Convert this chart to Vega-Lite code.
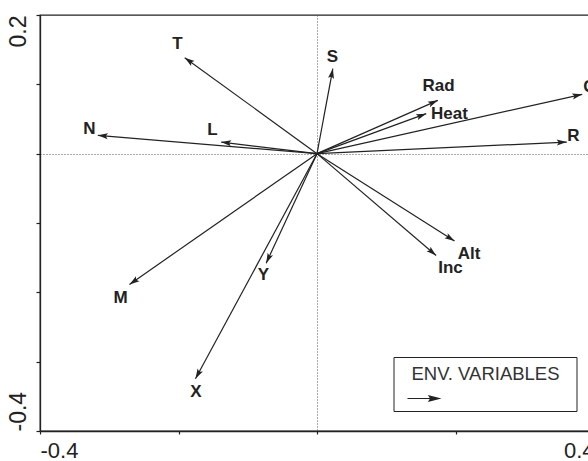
{
  "$schema": "https://vega.github.io/schema/vega-lite/v6.json",
  "width": 554,
  "height": 416,
  "autosize": "none",
  "padding": {"left": 40, "top": 15, "right": 0, "bottom": 30},
  "background": "white",
  "config": {
    "view": {"stroke": "#222", "strokeWidth": 1.3},
    "font": "Liberation Sans"
  },
  "datasets": {
    "arrows": [
      {"name": "T", "x": -0.191, "y": 0.1385, "lx": -0.2014, "ly": 0.1577},
      {"name": "N", "x": -0.3165, "y": 0.0264, "lx": -0.3285, "ly": 0.0351},
      {"name": "L", "x": -0.1384, "y": 0.0167, "lx": -0.1509, "ly": 0.0336},
      {"name": "S", "x": 0.0229, "y": 0.1227, "lx": 0.0224, "ly": 0.139},
      {"name": "Rad", "x": 0.1745, "y": 0.0769, "lx": 0.1755, "ly": 0.0971},
      {"name": "Heat", "x": 0.1577, "y": 0.0577, "lx": 0.1913, "ly": 0.0567},
      {"name": "C", "x": 0.383, "y": 0.0856, "lx": 0.3935, "ly": 0.0964},
      {"name": "R", "x": 0.3607, "y": 0.0167, "lx": 0.3704, "ly": 0.0248},
      {"name": "Alt", "x": 0.1986, "y": -0.1261, "lx": 0.2195, "ly": -0.1446},
      {"name": "Inc", "x": 0.172, "y": -0.1468, "lx": 0.1928, "ly": -0.1648},
      {"name": "M", "x": -0.2708, "y": -0.1886, "lx": -0.2838, "ly": -0.2088},
      {"name": "Y", "x": -0.0734, "y": -0.1579, "lx": -0.0773, "ly": -0.1756},
      {"name": "X", "x": -0.1755, "y": -0.3247, "lx": -0.1747, "ly": -0.3437}
    ]
  },
  "layer": [
    {
      "data": {"name": "arrows"},
      "mark": {"type": "rule", "stroke": "#222", "strokeWidth": 1.2},
      "encoding": {
        "x": {
          "field": "x", "type": "quantitative",
          "scale": {"domain": [-0.4, 0.4], "nice": false, "zero": false},
          "axis": {
            "title": null,
            "values": [-0.4, -0.2, 0, 0.2, 0.4],
            "grid": true, "gridColor": "#555", "gridDash": [1, 2], "gridWidth": 1,
            "gridOpacity": {"condition": {"test": "datum.value == 0", "value": 1}, "value": 0},
            "domainColor": "#222", "domainWidth": 1.3,
            "tickColor": "#222", "tickSize": 3, "tickWidth": 1.2,
            "labelFlush": true, "labelOverlap": false, "labelBound": false,
            "labelFontSize": 22, "labelFont": "Liberation Sans", "labelColor": "#222",
            "labelPadding": 6,
            "format": ".1f",
            "labelExpr": "abs(datum.value) > 0.39 ? replace(datum.label, '\u2212', '-') : ''"
          }
        },
        "x2": {"datum": 0},
        "y": {
          "field": "y", "type": "quantitative",
          "scale": {"domain": [-0.4, 0.2], "nice": false, "zero": false},
          "axis": {
            "title": null,
            "values": [-0.4, -0.3, -0.2, -0.1, 0, 0.1, 0.2],
            "grid": true, "gridColor": "#555", "gridDash": [1, 2], "gridWidth": 1,
            "gridOpacity": {"condition": {"test": "datum.value == 0", "value": 1}, "value": 0},
            "domainColor": "#222", "domainWidth": 1.3,
            "tickColor": "#222", "tickSize": 4, "tickWidth": 1.2,
            "labelAngle": 270, "labelBaseline": "alphabetic",
            "labelAlign": {"condition": {"test": "datum.value > 0", "value": "right"}, "value": "left"},
            "labelFlush": false, "labelOverlap": false, "labelBound": false,
            "labelFontSize": 23, "labelFont": "Liberation Sans", "labelColor": "#222",
            "labelPadding": 11,
            "format": ".1f",
            "labelExpr": "(datum.value > 0.19 || datum.value < -0.39) ? replace(datum.label, '\u2212', '-') : ''"
          }
        },
        "y2": {"datum": 0}
      }
    },
    {
      "data": {"name": "arrows"},
      "transform": [{"calculate": "-atan2(datum.y, datum.x) * 180 / PI", "as": "ang"}],
      "mark": {"type": "point", "filled": true, "opacity": 1, "size": 100, "shape": "M0,0L-2,-0.6L-1.6,0L-2,0.6Z", "strokeWidth": 0},
      "encoding": {
        "x": {"field": "x", "type": "quantitative"},
        "y": {"field": "y", "type": "quantitative"},
        "angle": {"field": "ang", "type": "quantitative", "scale": null},
        "color": {
          "datum": "ENV. VARIABLES",
          "type": "nominal",
          "scale": {"range": ["#222"]},
          "legend": {
            "orient": "none", "legendX": 353.5, "legendY": 342,
            "title": "ENV. VARIABLES", "titleFontSize": 18.5, "titleFontWeight": "normal",
            "titleColor": "#333", "titleFont": "Liberation Sans", "titleAnchor": "middle",
            "titlePadding": 9, "padding": 8, "strokeColor": "#222",
            "symbolType": "M0,-0.1L3.7,-0.1L3.4,-0.6L5.67,0L3.4,0.6L3.7,0.1L0,0.1Z",
            "symbolSize": 144, "symbolFillColor": "#222", "symbolStrokeWidth": 0,
            "labelExpr": "''", "labelOffset": 155, "labelFontSize": 1
          }
        }
      }
    },
    {
      "data": {"name": "arrows"},
      "mark": {"type": "text", "fontWeight": "bold", "fontSize": 17, "font": "Liberation Sans", "fill": "#222", "align": "center", "baseline": "middle"},
      "encoding": {
        "x": {"field": "lx", "type": "quantitative"},
        "y": {"field": "ly", "type": "quantitative"},
        "text": {"field": "name", "type": "nominal"}
      }
    }
  ]
}
